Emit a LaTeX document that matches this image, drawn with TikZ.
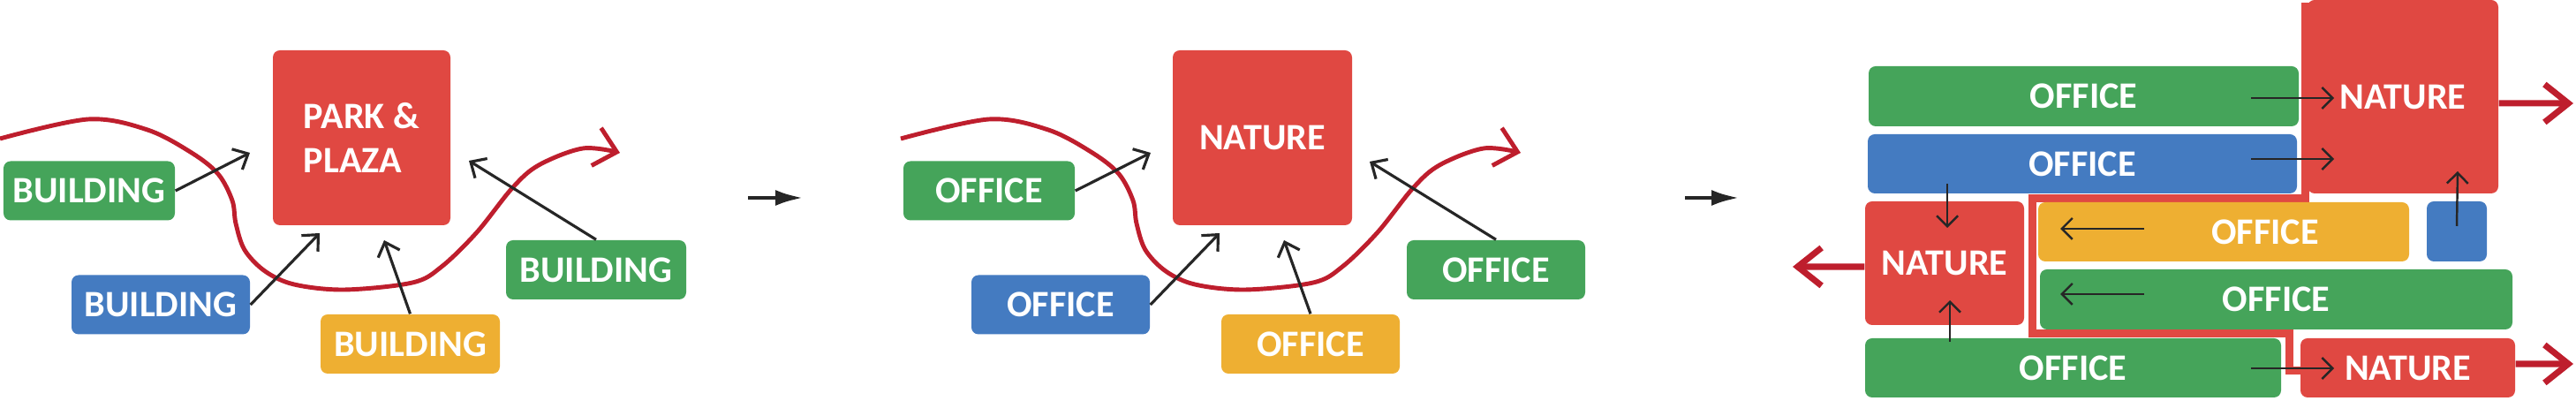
\documentclass[tikz,border=0pt]{standalone}
\usepackage{fontspec}
\setmainfont{Carlito}
\usepackage{xcolor}
\usepackage{tikz}
\definecolor{natcolor}{RGB}{224, 72, 66}
\definecolor{offgreen}{RGB}{69, 164, 90}
\definecolor{offblue}{RGB}{68, 123, 193}
\definecolor{offyellow}{RGB}{238, 175, 50}
\definecolor{rivercolor}{RGB}{190, 30, 45}
\usetikzlibrary{arrows.meta, positioning}

\begin{document}
\begin{tikzpicture}[
    tag/.style={rectangle, rounded corners=0.8mm, minimum width=2cm, minimum height=0.67cm, inner sep=0pt, text=white, font=\fontsize{12}{14.2}\selectfont\bfseries},
    gtag/.style={tag, fill=offgreen},
    btag/.style={tag, fill=offblue},
    ytag/.style={tag, fill=offyellow},
    nature/.style={tag, fill=natcolor, align=left},
    arrow/.style={-{Straight Barb[length=1.4mm, width=2.6mm]}, line width=0.9pt, black!85},
    thinarrow/.style={-{Straight Barb[length=1.2mm, width=2.4mm]}, line width=0.7pt, black!85},
    stage/.style={-{Latex[length=3.2mm, width=1.8mm]}, line width=1.4pt, black!85},
    river/.style={-{Straight Barb[length=2.4mm, width=4.4mm]}, line width=1.4pt, rivercolor},
    outflow/.style={-{Straight Barb[length=2.7mm, width=4.3mm]}, line width=2pt, rivercolor}
]
    \useasboundingbox (0,0) rectangle (29.17,4.54);

    % River curves
    \draw[river] plot[smooth, tension=0.55] coordinates {(0,2.97) (1.00,3.19) (1.67,3.07) (2.17,2.81) (2.47,2.57) (2.63,2.27) (2.67,2.01) (2.77,1.71) (3.00,1.47) (3.33,1.32) (3.90,1.26) (4.67,1.34) (5.00,1.52) (5.40,1.91) (5.80,2.41) (6.10,2.67) (6.60,2.86) (7.02,2.81)};
    \draw[river, xshift=10.2cm] plot[smooth, tension=0.55] coordinates {(0,2.97) (1.00,3.19) (1.67,3.07) (2.17,2.81) (2.47,2.57) (2.63,2.27) (2.67,2.01) (2.77,1.71) (3.00,1.47) (3.33,1.32) (3.90,1.26) (4.67,1.34) (5.00,1.52) (5.40,1.91) (5.80,2.41) (6.10,2.67) (6.60,2.86) (7.02,2.81)};

    % Panel 1
    \node[nature, minimum width=2.01cm, minimum height=1.98cm] (park) at (4.095, 2.98) {PARK \&\\PLAZA};
    \node[gtag, minimum width=1.94cm] (b1) at (1.01, 2.38) {BUILDING};
    \node[btag, minimum width=2.02cm] (b2) at (1.82, 1.09) {BUILDING};
    \node[ytag, minimum width=2.03cm] (b3) at (4.645, 0.645) {BUILDING};
    \node[gtag, minimum width=2.04cm] (b4) at (6.75, 1.485) {BUILDING};

    \coordinate (t1) at (2.83, 2.81);
    \coordinate (t2) at (3.62, 1.90);
    \coordinate (t3) at (4.35, 1.82);
    \coordinate (t4) at (5.31, 2.72);
    \draw[arrow] (b1.east) -- (t1);
    \draw[arrow] (b2.east) -- (t2);
    \draw[arrow] (b3.north) -- (t3);
    \draw[arrow] (b4.north) -- (t4);

    % Step arrows
    \coordinate (m1) at (8.47, 2.30);
    \coordinate (m2) at (9.10, 2.30);
    \coordinate (m3) at (19.08, 2.30);
    \coordinate (m4) at (19.70, 2.30);
    \draw[stage] (m1) -- (m2);
    \draw[stage] (m3) -- (m4);

    % Panel 2
    \node[nature, minimum width=2.03cm, minimum height=1.98cm] (nat) at (14.295, 2.98) {NATURE};
    \node[gtag, minimum width=1.94cm] (o1) at (11.20, 2.38) {OFFICE};
    \node[btag, minimum width=2.02cm] (o2) at (12.01, 1.09) {OFFICE};
    \node[ytag, minimum width=2.02cm] (o3) at (14.84, 0.645) {OFFICE};
    \node[gtag, minimum width=2.02cm] (o4) at (16.94, 1.485) {OFFICE};

    \coordinate (t5) at (13.03, 2.81);
    \coordinate (t6) at (13.81, 1.90);
    \coordinate (t7) at (14.54, 1.82);
    \coordinate (t8) at (15.51, 2.71);
    \draw[arrow] (o1.east) -- (t5);
    \draw[arrow] (o2.east) -- (t6);
    \draw[arrow] (o3.north) -- (t7);
    \draw[arrow] (o4.north) -- (t8);

    % Panel 3: red frame
    \draw[natcolor, line width=0.09cm, line join=miter] (26.10,4.51) -- (26.10,2.29) -- (23.01,2.29) -- (23.01,0.76) -- (25.92,0.76) -- (25.92,0.34) -- (26.10,0.34);

    \node[nature, minimum width=2.16cm, minimum height=2.19cm] (bign) at (27.21, 3.445) {NATURE};
    \node[gtag, minimum width=4.87cm, minimum height=0.68cm] (f1) at (23.595, 3.45) {OFFICE};
    \node[btag, minimum width=4.86cm] (f2) at (23.58, 2.685) {OFFICE};
    \node[ytag, minimum width=4.20cm] (f3) at (25.18, 1.915) {\hspace*{0.94cm}OFFICE};
    \node[btag, minimum width=0.68cm, minimum height=0.68cm] (sq) at (27.82, 1.92) {};
    \node[gtag, minimum width=5.35cm, minimum height=0.68cm] (f4) at (25.775, 1.15) {OFFICE};
    \node[nature, minimum width=1.80cm, minimum height=1.40cm] (nl) at (22.02, 1.56) {NATURE};
    \node[gtag, minimum width=4.71cm] (f5) at (23.475, 0.375) {OFFICE};
    \node[nature, minimum width=2.43cm] (nb) at (27.265, 0.375) {NATURE};

    % Panel 3: flows
    \coordinate (a1) at (25.49, 3.43);  \coordinate (e1) at (26.43, 3.43);
    \coordinate (a2) at (25.49, 2.74);  \coordinate (e2) at (26.43, 2.74);
    \coordinate (e3) at (27.83, 2.60);
    \coordinate (a4) at (22.05, 2.46);  \coordinate (e4) at (22.05, 1.96);
    \coordinate (a5) at (22.08, 0.67);  \coordinate (e5) at (22.08, 1.14);
    \coordinate (a6) at (24.28, 1.95);  \coordinate (e6) at (23.33, 1.95);
    \coordinate (a7) at (24.28, 1.21);  \coordinate (e7) at (23.33, 1.21);
    \coordinate (a8) at (25.49, 0.37);  \coordinate (e8) at (26.43, 0.37);
    \draw[thinarrow] (a1) -- (e1);
    \draw[thinarrow] (a2) -- (e2);
    \draw[thinarrow] ([yshift=0.6mm]sq.center) -- (e3);
    \draw[thinarrow] (a4) -- (e4);
    \draw[thinarrow] (a5) -- (e5);
    \draw[thinarrow] (a6) -- (e6);
    \draw[thinarrow] (a7) -- (e7);
    \draw[thinarrow] (a8) -- (e8);

    % Outflows
    \coordinate (r1) at (29.14, 3.37);
    \coordinate (r2) at (20.30, 1.52);
    \coordinate (r3) at (29.14, 0.42);
    \draw[outflow] ([yshift=-0.75mm]bign.east) -- (r1);
    \draw[outflow] ([yshift=-0.4mm]nl.west) -- (r2);
    \draw[outflow] ([yshift=0.45mm]nb.east) -- (r3);
\end{tikzpicture}
\end{document}
